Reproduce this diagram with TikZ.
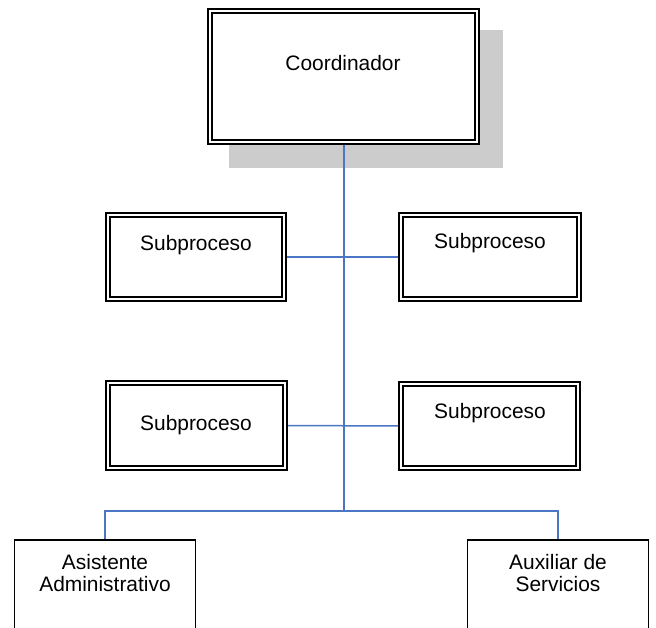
\documentclass[tikz,border=0pt]{standalone}
\usepackage{fontspec}
\setmainfont{Liberation Sans}
\usetikzlibrary{backgrounds}
\definecolor{linkblue}{HTML}{4A76C3}
\definecolor{shadowgray}{HTML}{CCCCCC}
\begin{document}
\begin{tikzpicture}[x=1bp,y=-1bp,
  dbox/.style={draw=black, double=white, fill=white, line width=2bp,
    double distance=1.6bp, minimum width=#1, minimum height=84.5bp, inner sep=0pt},
  sbox/.style={draw=black, fill=white, line width=1.6bp,
    minimum width=181bp, minimum height=140bp, inner sep=0pt},
  lbl/.style={font=\fontsize{21}{22.5}\selectfont, align=center, inner sep=0pt},
  link/.style={draw=linkblue, line width=1.5bp}]
\useasboundingbox (0,0) rectangle (656,628);
\clip (0,0) rectangle (656,628);

% boxes
\node[dbox=267.5bp, minimum height=131.5bp] (coord) at (343.5,76.5) {};
\node[dbox=176.5bp] (s1) at (196,257) {};
\node[dbox=178bp] (s2) at (490,257) {};
\node[dbox=177bp] (s3) at (196.5,425.5) {};
\node[dbox=177bp] (s4) at (489.5,426) {};
\node[sbox, anchor=north] (asist) at (105,539) {};
\node[sbox, anchor=north] (aux) at (558,539) {};

% texts
\node[lbl] (tcoord) at (343,63) {Coordinador};
\node[lbl] (ts1) at (196,245) {Subproceso};
\node[lbl] (ts2) at (490,243) {Subproceso};
\node[lbl] (ts3) at (196,425) {Subproceso};
\node[lbl] (ts4) at (490,413) {Subproceso};
\node[lbl, anchor=north] (tasist) at (105,554) {Asistente\\Administrativo};
\node[lbl, anchor=north] (taux) at (558,554) {Auxiliar de\\Servicios};

\coordinate (hub) at (344,511);

\begin{scope}[on background layer]
  % drop shadow of the top box
  \fill[shadowgray] (229,30) rectangle (503,168);
  % connectors
  \draw[link] (coord.south -| hub) -- (hub);
  \draw[link] (s1.east) -- (s2.west);
  \draw[link] (s3.east) -- (s4.west);
  \draw[link] (hub) -| (asist.north);
  \draw[link] (hub) -| (aux.north);
\end{scope}
\end{tikzpicture}
\end{document}
